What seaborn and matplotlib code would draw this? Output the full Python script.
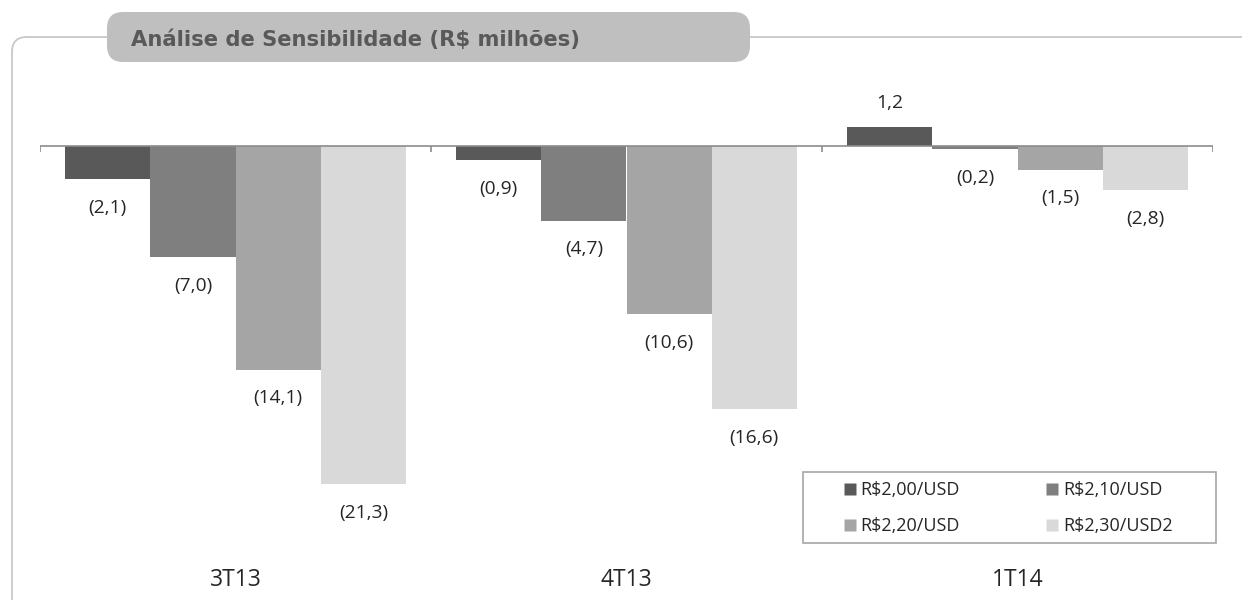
import matplotlib
matplotlib.use("Agg")
import matplotlib.pyplot as plt
from matplotlib.patches import FancyBboxPatch, Rectangle
from matplotlib.lines import Line2D
import seaborn as sns
import pandas as pd

# Quarters, exchange-rate scenarios and the resulting impact (R$ millions)
quarters = ["3T13", "4T13", "1T14"]
scenarios = ["R$2,00/USD", "R$2,10/USD", "R$2,20/USD", "R$2,30/USD2"]
impact_3t13 = [-2.1, -7.0, -14.1, -21.3]
impact_4t13 = [-0.9, -4.7, -10.6, -16.6]
impact_1t14 = [1.2, -0.2, -1.5, -2.8]
title = "Análise de Sensibilidade (R$ milhões)"

colors = ["#595959", "#7f7f7f", "#a5a5a5", "#d9d9d9"]

rows = []
for q, vals in zip(quarters, [impact_3t13, impact_4t13, impact_1t14]):
    for s, v in zip(scenarios, vals):
        rows.append({"quarter": q, "scenario": s, "value": v})
df = pd.DataFrame(rows)

sns.set_theme(style="white")
plt.rcParams["font.family"] = ["Open Sans", "DejaVu Sans"]

W, H = 1242, 600
fig = plt.figure(figsize=(W / 100, H / 100), dpi=100)

# outer rounded frame
frame = FancyBboxPatch((12 / W, -40 / H), 1300 / W, (H - 37 + 40) / H,
                       boxstyle="round,pad=0,rounding_size=0.012",
                       transform=fig.transFigure, fill=False,
                       edgecolor="#c8c8c8", linewidth=1.3, zorder=0,
                       mutation_aspect=W / H)
fig.patches.append(frame)

# title tab
tab = FancyBboxPatch((107 / W, (H - 62) / H), (750 - 107) / W, 50 / H,
                     boxstyle="round,pad=0,rounding_size=0.013",
                     transform=fig.transFigure, facecolor="#bfbfbf",
                     edgecolor="none", zorder=1, mutation_aspect=W / H)
fig.patches.append(tab)
fig.text(131 / W, (H - 40) / H, title, fontsize=15.2, fontweight="bold",
         color="#595959", va="center", ha="left",
         family=["DejaVu Sans"])

# axes: zero line at y=146 px, 15.87 px per unit
top_px, bot_px, zero_px, ppu = 95, 562, 146, 15.87
ax = fig.add_axes([40 / W, (H - bot_px) / H, (1213 - 40) / W, (bot_px - top_px) / H])
sns.barplot(data=df, x="quarter", y="value", hue="scenario", palette=colors,
            width=0.872, gap=0, saturation=1, ax=ax, legend=False,
            edgecolor="none", linewidth=0)
ax.set_ylim(-(bot_px - zero_px) / ppu, (zero_px - top_px) / ppu)
ax.set_xlim(-0.5, 2.5)

for s in ax.spines.values():
    s.set_visible(False)
ax.set_yticks([])
ax.set_xlabel("")
ax.set_ylabel("")
ax.tick_params(axis="x", length=0, pad=4, labelsize=16.5, labelcolor="#262626")

# zero line with category separators
ax.axhline(0, color="#8c8c8c", linewidth=1.2, zorder=3)
ax.vlines([-0.5, 0.5, 1.5, 2.5], -0.38, 0, color="#8c8c8c", linewidth=1.2, zorder=3)

# value labels, negatives in parentheses, placed just outside the bar end
def fmt(v):
    s = f"{abs(v):.1f}".replace(".", ",")
    return f"({s})" if v < 0 else s

for cont in ax.containers:
    for bar in cont:
        v = bar.get_height()
        x = bar.get_x() + bar.get_width() / 2
        dy = -28.5 if v < 0 else 24
        ax.annotate(fmt(v), (x, v), xytext=(0, dy * 0.72), textcoords="offset points",
                    ha="center", va="center", fontsize=13.8, color="#262626")

# legend: row-major order, 2 columns (matplotlib fills columns first)
handles = [Line2D([], [], marker="s", linestyle="none", markersize=8,
                  markerfacecolor=c, markeredgecolor="none") for c in colors]
order = [0, 2, 1, 3]
leg = fig.legend([handles[i] for i in order], [scenarios[i] for i in order],
                 ncol=2, loc="center",
                 bbox_to_anchor=((803 + 1216) / 2 / W - 1 / W, (H - 508) / H),
                 frameon=False, fontsize=13,
                 handlelength=0.6, handletextpad=0.3, columnspacing=4.8,
                 labelspacing=1.0, borderaxespad=0, borderpad=0)
for t in leg.get_texts():
    t.set_color("#262626")
fig.patches.append(Rectangle((803 / W, (H - 543) / H), (1216 - 803) / W, 71 / H,
                             transform=fig.transFigure, fill=False,
                             edgecolor="#a6a6a6", linewidth=1.2))

fig.savefig("out.png", dpi=100)
